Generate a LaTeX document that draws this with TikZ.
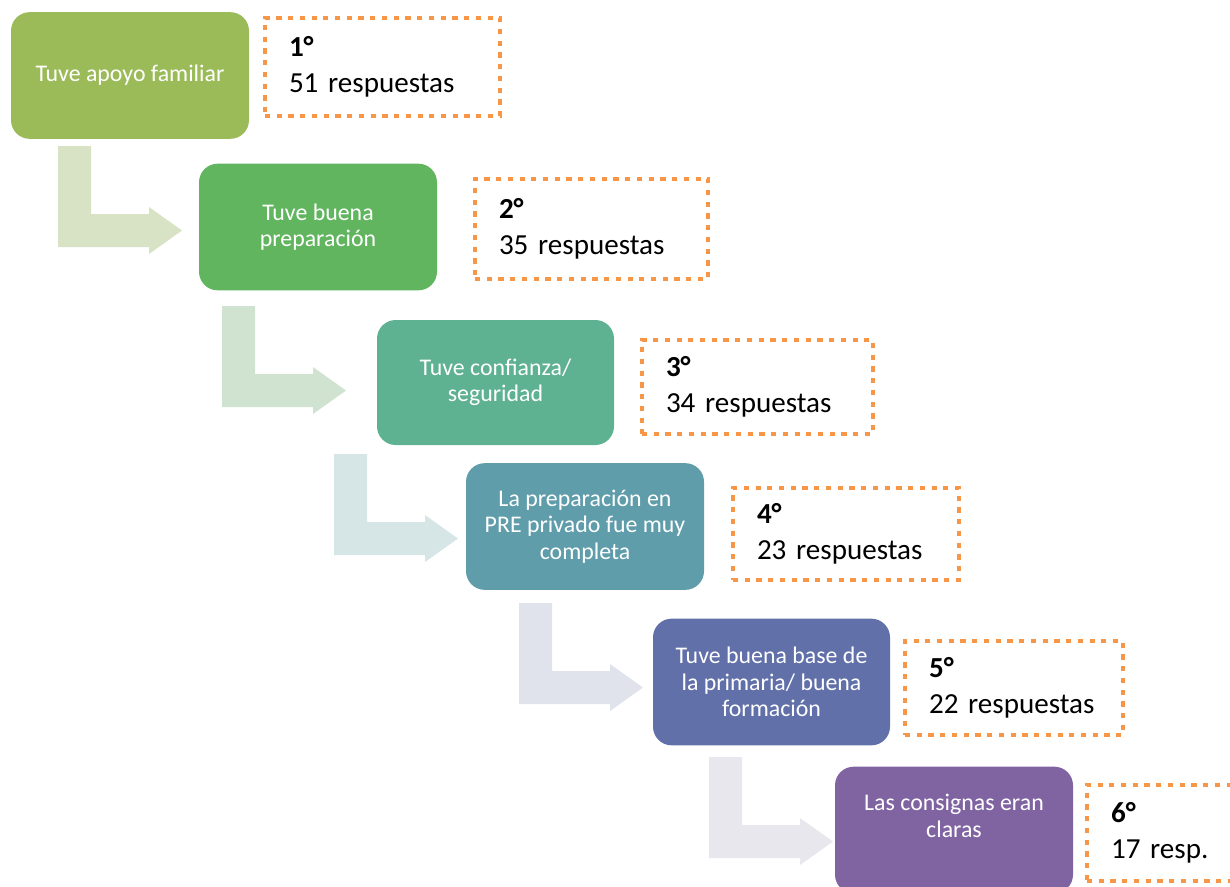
\documentclass[tikz,border=0pt]{standalone}
\usepackage{fontspec}
\setmainfont{Carlito}
\usepackage{tikz}
\usetikzlibrary{calc, positioning}
\definecolor{stepOne}{HTML}{9BBB59}
\definecolor{stepTwo}{HTML}{60B55E}
\definecolor{stepThree}{HTML}{5EB191}
\definecolor{stepFour}{HTML}{5F9DAA}
\definecolor{stepFive}{HTML}{6170A9}
\definecolor{stepSix}{HTML}{8064A2}
\definecolor{arrowOne}{HTML}{D8E2C5}
\definecolor{arrowTwo}{HTML}{CFE3D0}
\definecolor{arrowThree}{HTML}{D6E6E6}
\definecolor{arrowFour}{HTML}{E0E3EC}
\definecolor{arrowFive}{HTML}{E9E7EE}
\definecolor{rankOrange}{HTML}{F79646}
\newcommand{\boxfont}{\fontsize{17.9}{19.8}\selectfont}
\newcommand{\rankfont}{\fontsize{21.8}{27}\selectfont}
% bent block arrow, #1 = top left corner, #2 = colour
\newcommand{\bentarrow}[2]{%
	\fill[#2] (#1) -- ++(33,0) -- ++(0,68) -- ++(58,0) -- ++(0,-7)
		-- ++(33,23.5) -- ++(-33,23.5) -- ++(0,-7) -- ++(-91,0) -- cycle;}
\tikzset{
	stepbox/.style={rounded corners=14pt, text=white, align=center,
		minimum width=178.5pt, minimum height=95pt, inner sep=0pt, font=\boxfont},
	steptext/.style={text=white, align=center, inner sep=0pt, font=\boxfont},
	rankbox/.style={draw=rankOrange, line width=3.3pt, dash pattern=on 3.9pt off 4.9pt,
		align=left, inner xsep=18pt, inner ysep=0pt, font=\rankfont},
}

\begin{document}
\begin{tikzpicture}[x=0.75pt, y=-0.75pt]
		\clip (0,0) rectangle (1230,886);
		%-------------------------------------------------------------------------------
		% arrows
		%-------------------------------------------------------------------------------
		\coordinate (a1) at (58,146);
		\coordinate (a2) at (222,306);
		\coordinate (a3) at (334,454);
		\coordinate (a4) at (519,603);
		\coordinate (a5) at (709,757);
		\bentarrow{a1}{arrowOne}
		\bentarrow{a2}{arrowTwo}
		\bentarrow{a3}{arrowThree}
		\bentarrow{a4}{arrowFour}
		\bentarrow{a5}{arrowFive}

		%-------------------------------------------------------------------------------
		% steps
		%-------------------------------------------------------------------------------
		\node[stepbox, fill=stepOne] (apoyo) 
			at (130,75.5) {Tuve apoyo familiar};
		\node[stepbox, fill=stepTwo] (prep) 
			at (318,227) {Tuve buena\\preparación};
		\node[stepbox, fill=stepThree, minimum width=177.75pt, minimum height=93.75pt] (conf) 
			at (495.5,382.5) {Tuve confianza/\\seguridad};
		\node[stepbox, fill=stepFour] (pre) 
			at (585,526.5) {La preparación en\\PRE privado fue muy\\completa};
		\node[stepbox, fill=stepFive, minimum width=177.75pt] (base) 
			at (771.5,682) {Tuve buena base de\\la primaria/ buena\\formación};
		\node[stepbox, fill=stepSix] (consig) 
			at (954,830) {};
		\node[steptext] (consigtext) 
			at (954,816) {Las consignas eran\\claras};

		%-------------------------------------------------------------------------------
		% ranks
		%-------------------------------------------------------------------------------
		\node[rankbox, text width=140.25pt, minimum height=73.5pt] (r1) 
			at (382.5,67) {\textbf{1°}\\51 respuestas};
		\node[rankbox, text width=138.75pt, minimum height=75pt] (r2) 
			at (591.5,229) {\textbf{2°}\\35 respuestas};
		\node[rankbox, text width=137.25pt, minimum height=70.5pt] (r3) 
			at (757.5,387) {\textbf{3°}\\34 respuestas};
		\node[rankbox, text width=133.5pt, minimum height=69pt] (r4) 
			at (846,534) {\textbf{4°}\\23 respuestas};
		\node[rankbox, text width=127.5pt, minimum height=70.5pt] (r5) 
			at (1014,688) {\textbf{5°}\\22 respuestas};
		\node[rankbox, text width=127.5pt, minimum height=72pt] (r6) 
			at (1196,833) {\textbf{6°}\\17 resp.};
\end{tikzpicture}
\end{document}
